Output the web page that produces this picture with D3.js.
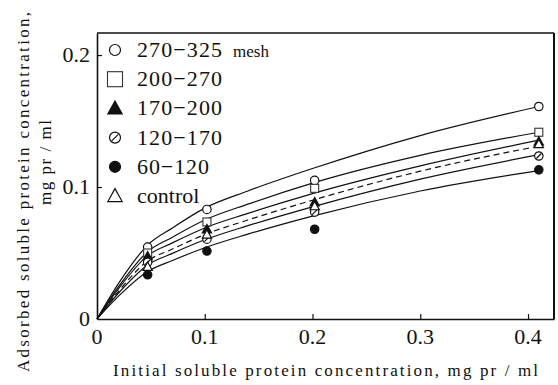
<!DOCTYPE html>
<html>
<head>
<meta charset="utf-8">
<script src="https://cdn.jsdelivr.net/npm/d3@7"></script>
<style>
  body { margin: 0; background: #fff; }
  svg { display: block; }
</style>
</head>
<body>
<div id="chart"></div>
<script>
// measured concentrations (x) for the data points
var pointX = [0.047, 0.102, 0.202, 0.41];

// adsorbed values, per fraction
var meshNames = ["270\u2212325", "200\u2212270", "170\u2212200", "120\u2212170", "60\u2212120", "control"];
var meshSymbols = ["circle", "square", "triangleFilled", "circleSlash", "circleFilled", "triangle"];
var pts_270_325 = [0.0545, 0.083, 0.105, 0.161];
var pts_200_270 = [0.050, 0.0735, 0.099, 0.1415];
var pts_170_200 = [0.0475, 0.068, 0.0885, 0.1345];
var pts_120_170 = [0.043, 0.0605, 0.081, 0.1235];
var pts_60_120 = [0.0335, 0.0515, 0.068, 0.113];
var pts_control = [0.0395, 0.064, 0.0855, 0.1325];

// fitted curves
var curveX = [0, 0.02, 0.047, 0.07, 0.1, 0.14, 0.2, 0.3, 0.41];
var fit_270_325 = [0, 0.027, 0.056, 0.069, 0.084, 0.097, 0.114, 0.139, 0.161];
var fit_200_270 = [0, 0.0245, 0.051, 0.062, 0.075, 0.087, 0.103, 0.124, 0.1415];
var fit_170_200 = [0, 0.023, 0.048, 0.0577, 0.069, 0.080, 0.095, 0.116, 0.1355];
var fit_control = [0, 0.021, 0.044, 0.053, 0.064, 0.075, 0.090, 0.112, 0.131];
var fit_120_170 = [0, 0.0197, 0.041, 0.0497, 0.060, 0.0707, 0.085, 0.106, 0.1245];
var fit_60_120 = [0, 0.0173, 0.036, 0.0443, 0.054, 0.0643, 0.078, 0.097, 0.1125];

var xTicks = [0, 0.1, 0.2, 0.3, 0.4];
var yTicks = [0, 0.1, 0.2];

var allPoints = [pts_270_325, pts_200_270, pts_170_200, pts_120_170, pts_60_120, pts_control];
var allFits = [fit_270_325, fit_200_270, fit_170_200, fit_control, fit_120_170, fit_60_120];
var fitDashed = [false, false, false, true, false, false];

var W = 558, H = 385;
var svg = d3.select("#chart").append("svg").attr("width", W).attr("height", H);

var x = d3.scaleLinear().domain([0, 0.4241]).range([97, 554]);
var y = d3.scaleLinear().domain([0, 0.2167]).range([319, 33]);

// frame top / right
svg.append("line").attr("x1", 97).attr("x2", 554).attr("y1", 33).attr("y2", 33)
  .attr("stroke", "#111").attr("stroke-width", 1.3);
svg.append("line").attr("x1", 554).attr("x2", 554).attr("y1", 33).attr("y2", 319)
  .attr("stroke", "#111").attr("stroke-width", 2);

// axes with inward ticks
var gx = svg.append("g").attr("transform", "translate(0,319)")
  .call(d3.axisBottom(x).tickValues(xTicks.slice(1)).tickSizeInner(-5).tickSizeOuter(0).tickFormat(""));
var gy = svg.append("g").attr("transform", "translate(97,0)")
  .call(d3.axisLeft(y).tickValues(yTicks.slice(1)).tickSizeInner(-5).tickSizeOuter(0).tickFormat(""));
[gx, gy].forEach(function(g) {
  g.select(".domain").attr("stroke", "#111").attr("stroke-width", 1.6);
  g.selectAll(".tick line").attr("stroke", "#111").attr("stroke-width", 1.2);
});

function txt(sel) {
  return sel.append("text").attr("font-family", "Liberation Serif").attr("fill", "#111");
}

// tick labels
xTicks.forEach(function(d) {
  txt(svg).attr("x", x(d)).attr("y", 344)
    .attr("text-anchor", "middle").attr("font-size", 22)
    .text(d === 0 ? "0" : d3.format(".1f")(d));
});
yTicks.forEach(function(d) {
  txt(svg).attr("x", 90).attr("y", y(d) + 7)
    .attr("text-anchor", "end").attr("font-size", 22)
    .text(d === 0 ? "0" : d3.format(".1f")(d));
});

// axis titles
txt(svg).attr("x", 113).attr("y", 376).attr("font-size", 17)
  .attr("textLength", 425).attr("lengthAdjust", "spacing")
  .text("Initial soluble protein concentration, mg pr / ml");
txt(svg).attr("transform", "translate(29,372) rotate(-90)").attr("font-size", 17)
  .attr("textLength", 360).attr("lengthAdjust", "spacing")
  .text("Adsorbed soluble protein concentration,");
txt(svg).attr("transform", "translate(51,205) rotate(-90)").attr("font-size", 17)
  .attr("textLength", 85).attr("lengthAdjust", "spacing")
  .text("mg pr / ml");

// fitted curves
var line = d3.line()
  .x(function(d) { return x(d[0]); })
  .y(function(d) { return y(d[1]); })
  .curve(d3.curveMonotoneX);
allFits.forEach(function(f, i) {
  svg.append("path")
    .attr("d", line(curveX.map(function(cx, j) { return [cx, f[j]]; })))
    .attr("fill", "none").attr("stroke", "#111").attr("stroke-width", 1.2)
    .attr("stroke-dasharray", fitDashed[i] ? "6,4" : null);
});

// markers
function drawSymbol(g, kind, cx, cy, s) {
  if (kind === "circle" || kind === "circleFilled" || kind === "circleSlash") {
    g.append("circle").attr("cx", cx).attr("cy", cy).attr("r", s)
      .attr("fill", kind === "circleFilled" ? "#111" : "#fff")
      .attr("stroke", "#111").attr("stroke-width", 1.2);
    if (kind === "circleSlash") {
      g.append("line").attr("x1", cx - s * 0.6).attr("y1", cy + s * 0.6)
        .attr("x2", cx + s * 0.6).attr("y2", cy - s * 0.6)
        .attr("stroke", "#111").attr("stroke-width", 1.2);
    }
  } else if (kind === "square") {
    g.append("rect").attr("x", cx - s).attr("y", cy - s).attr("width", 2 * s).attr("height", 2 * s)
      .attr("fill", "#fff").attr("stroke", "#333").attr("stroke-width", 1.1);
  } else {
    var h = s * 1.9;
    g.append("path")
      .attr("d", "M" + cx + "," + (cy - h * 0.6) + "L" + (cx + s * 1.1) + "," + (cy + h * 0.45) +
        "L" + (cx - s * 1.1) + "," + (cy + h * 0.45) + "Z")
      .attr("fill", kind === "triangleFilled" ? "#111" : "#fff")
      .attr("stroke", "#111").attr("stroke-width", 1.2);
  }
}

var marks = svg.append("g");
allPoints.forEach(function(p, i) {
  p.forEach(function(v, j) {
    drawSymbol(marks, meshSymbols[i], x(pointX[j]), y(v), meshSymbols[i] === "square" ? 4 : 4.2);
  });
});

// legend
var leg = svg.append("g");
meshNames.forEach(function(name, i) {
  var ly = 50 + i * 29.2;
  var sz = meshSymbols[i] === "square" ? 7.5 : (meshSymbols[i].indexOf("triangle") === 0 ? 6.5 : 5.5);
  drawSymbol(leg, meshSymbols[i], 115, ly, sz);
  var t = txt(leg).attr("x", 137).attr("y", ly + 7).attr("font-size", 22).text(name);
  if (i < 5) t.attr("textLength", i === 4 ? 72 : 85).attr("lengthAdjust", "spacing");
});
txt(leg).attr("x", 233).attr("y", 57).attr("font-size", 17).text("mesh");
</script>
</body>
</html>
